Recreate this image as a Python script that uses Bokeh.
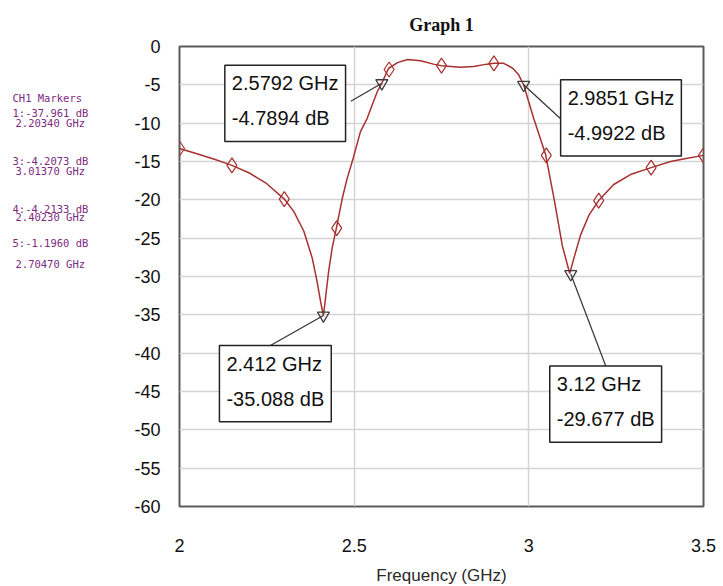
from bokeh.plotting import figure
from bokeh.layouts import row
from bokeh.models import Label, FixedTicker, Range1d
from bokeh.embed import file_html
from bokeh.resources import INLINE
from bokeh.core.properties import value

# ---------------- data ----------------
freq = [2.000, 2.050, 2.100, 2.150, 2.200, 2.250, 2.300, 2.327, 2.356, 2.380,
        2.394, 2.404, 2.412, 2.418, 2.427, 2.437, 2.449, 2.466, 2.480, 2.497,
        2.518, 2.537, 2.566, 2.5792, 2.598, 2.624, 2.653, 2.690, 2.727, 2.750,
        2.804, 2.842, 2.880, 2.900, 2.928, 2.953, 2.971, 2.9851, 3.014, 3.048,
        3.072, 3.096, 3.117, 3.129, 3.148, 3.172, 3.200, 3.243, 3.291, 3.350,
        3.406, 3.450, 3.500]
s21_db = [-13.3, -14.0, -14.7, -15.5, -16.5, -17.9, -19.9, -21.5, -24.1, -27.6,
          -30.7, -33.3, -35.1, -32.8, -29.3, -26.3, -23.7, -19.8, -17.2, -14.6,
          -11.1, -9.4, -5.9, -4.79, -2.87, -2.1, -1.7, -1.87, -2.3, -2.5,
          -2.7, -2.6, -2.3, -2.2, -2.2, -2.8, -3.7, -4.99, -9.4, -14.1,
          -19.8, -26.0, -29.6, -27.6, -24.6, -22.0, -20.1, -18.0, -16.7, -15.8,
          -15.0, -14.6, -14.2]

diamond_freq = [2.00, 2.15, 2.30, 2.45, 2.60, 2.75, 2.90, 3.05, 3.20, 3.35, 3.50]
diamond_db = [-13.3, -15.5, -19.9, -23.7, -3.0, -2.5, -2.2, -14.2, -20.1, -15.8, -14.2]

marker_freq = [2.5792, 2.9851, 2.412, 3.12]
marker_db = [-4.7894, -4.9922, -35.088, -29.677]
marker_text = ["2.5792 GHz\n-4.7894 dB", "2.9851 GHz\n-4.9922 dB",
               "2.412 GHz\n-35.088 dB", "3.12 GHz\n-29.677 dB"]

x_ticks = [2, 2.5, 3, 3.5]
x_tick_labels = ["2", "2.5", "3", "3.5"]
y_ticks = [0, -5, -10, -15, -20, -25, -30, -35, -40, -45, -50, -55, -60]
y_tick_labels = ["0", "-5", "-10", "-15", "-20", "-25", "-30", "-35", "-40",
                 "-45", "-50", "-55", "-60"]

side_lines = ["CH1 Markers", "1:-37.961 dB", "2.20340 GHz", "3:-4.2073 dB",
              "3.01370 GHz", "4:-4.2133 dB", "2.40230 GHz", "5:-1.1960 dB",
              "2.70470 GHz"]

title_text = "Graph 1"
x_title = "Frequency (GHz)"

# ---------------- layout / style ----------------
FW, FH = 524, 460
TOP, BOTTOM, LEFT, RIGHT = 45, 78, 55, 20
H = TOP + FH + BOTTOM
SIDE_W = 124
X0, X1, Y0, Y1 = 2.0, 3.5, -60.0, 0.0
kx = FW / (X1 - X0)
ky = FH / (Y1 - Y0)

p = figure(frame_width=FW, frame_height=FH, x_range=Range1d(X0, X1),
           y_range=Range1d(Y0, Y1), output_backend="svg", toolbar_location=None,
           min_border_left=LEFT, min_border_top=TOP, min_border_right=RIGHT,
           min_border_bottom=BOTTOM, background_fill_color="white",
           border_fill_color="white", title=title_text)

p.title.align = "center"
p.title.text_font = "Liberation Serif"
p.title.text_font_style = "bold"
p.title.text_font_size = "18px"
p.title.text_color = "#111111"
p.title.standoff = 24

p.outline_line_color = "#5a5a5a"
p.outline_line_width = 2

for ax in (p.xaxis[0], p.yaxis[0]):
    ax.axis_line_color = None
    ax.major_tick_line_color = None
    ax.minor_tick_line_color = None
    ax.major_label_text_font = "Liberation Sans"
    ax.major_label_text_font_size = "18px"
    ax.major_label_text_color = "#111111"

p.xaxis.ticker = FixedTicker(ticks=x_ticks)
p.yaxis.ticker = FixedTicker(ticks=y_ticks)
p.xaxis.major_label_overrides = {t: l for t, l in zip(x_ticks, x_tick_labels)}
p.yaxis.major_label_overrides = {t: l for t, l in zip(y_ticks, y_tick_labels)}
p.xaxis.major_label_standoff = 26
p.yaxis.major_label_standoff = 13
p.xaxis.axis_label = x_title
p.xaxis.axis_label_text_font = "Liberation Sans"
p.xaxis.axis_label_text_font_style = "normal"
p.xaxis.axis_label_text_font_size = "17px"
p.xaxis.axis_label_text_color = "#2a2a2a"
p.xaxis.axis_label_standoff = 11

p.xgrid.ticker = FixedTicker(ticks=x_ticks)
p.ygrid.ticker = FixedTicker(ticks=y_ticks)
p.grid.grid_line_color = "#d4d4d4"
p.grid.grid_line_width = 1.5

curve_color = "#a8302f"
p.line(freq, s21_db, line_color=curve_color, line_width=1.5)
p.scatter(diamond_freq, diamond_db, marker="diamond", size=15,
          fill_color=None, line_color=curve_color, line_width=1.2)
p.scatter(marker_freq, marker_db, marker="inverted_triangle", size=12,
          fill_color=None, line_color="#3a3a3a", line_width=1.3)

# callouts: pixel offsets (right, down) from the marker to box top-left and leader end
box_off = [(-157, -18), (37, -5), (-104, 30), (-21, 92)]
lead_off = [(-31, 18), (37, 34), (-53, 30), (35, 92)]

lx1 = [f + d[0] / kx for f, d in zip(marker_freq, lead_off)]
ly1 = [m - d[1] / ky for m, d in zip(marker_db, lead_off)]
p.segment(marker_freq, marker_db, lx1, ly1, line_color="#333333", line_width=1.2)

for f, m, t, (dx, dy) in zip(marker_freq, marker_db, marker_text, box_off):
    common = dict(x=f, y=m, text=t, anchor="top_left", text_align="left",
                  text_baseline="top", text_font="Liberation Sans",
                  text_font_size="20px",
                  padding=dict(left=7, right=7, top=7, bottom=12),
                  text_line_height=1.6)
    shadow = Label(x_offset=dx + 4, y_offset=-dy - 4,
                   text_alpha=0.0, background_fill_color="#9a9a9a",
                   background_fill_alpha=0.85, border_line_color=None, **common)
    box = Label(x_offset=dx, y_offset=-dy, text_color="#111111",
                background_fill_color="white", border_line_color="#222222",
                border_line_width=1.5, **common)
    p.add_layout(shadow)
    p.add_layout(box)

# side marker list as its own small canvas (y axis runs top-down in pixels)
side = figure(width=SIDE_W, height=H, x_range=Range1d(0, SIDE_W),
              y_range=Range1d(TOP + FH, TOP), output_backend="svg",
              toolbar_location=None, x_axis_location=None, y_axis_location=None,
              min_border_left=0, min_border_right=0, min_border_top=TOP,
              min_border_bottom=BOTTOM, background_fill_color="white",
              border_fill_color="white")
side.grid.visible = False
side.outline_line_color = None

side_py = [97, 112, 122, 161, 171, 209, 217, 243, 264]
side_px = [12, 12, 15, 12, 15, 12, 15, 12, 15]
side.text(x=side_px, y=side_py, text=side_lines,
          text_font=value("DejaVu Sans Mono"), text_font_size="10.5px",
          text_color="#7d2a80", text_baseline="middle", text_align="left")

layout = row(side, p)
open("out.html", "w").write(file_html(layout, INLINE))
